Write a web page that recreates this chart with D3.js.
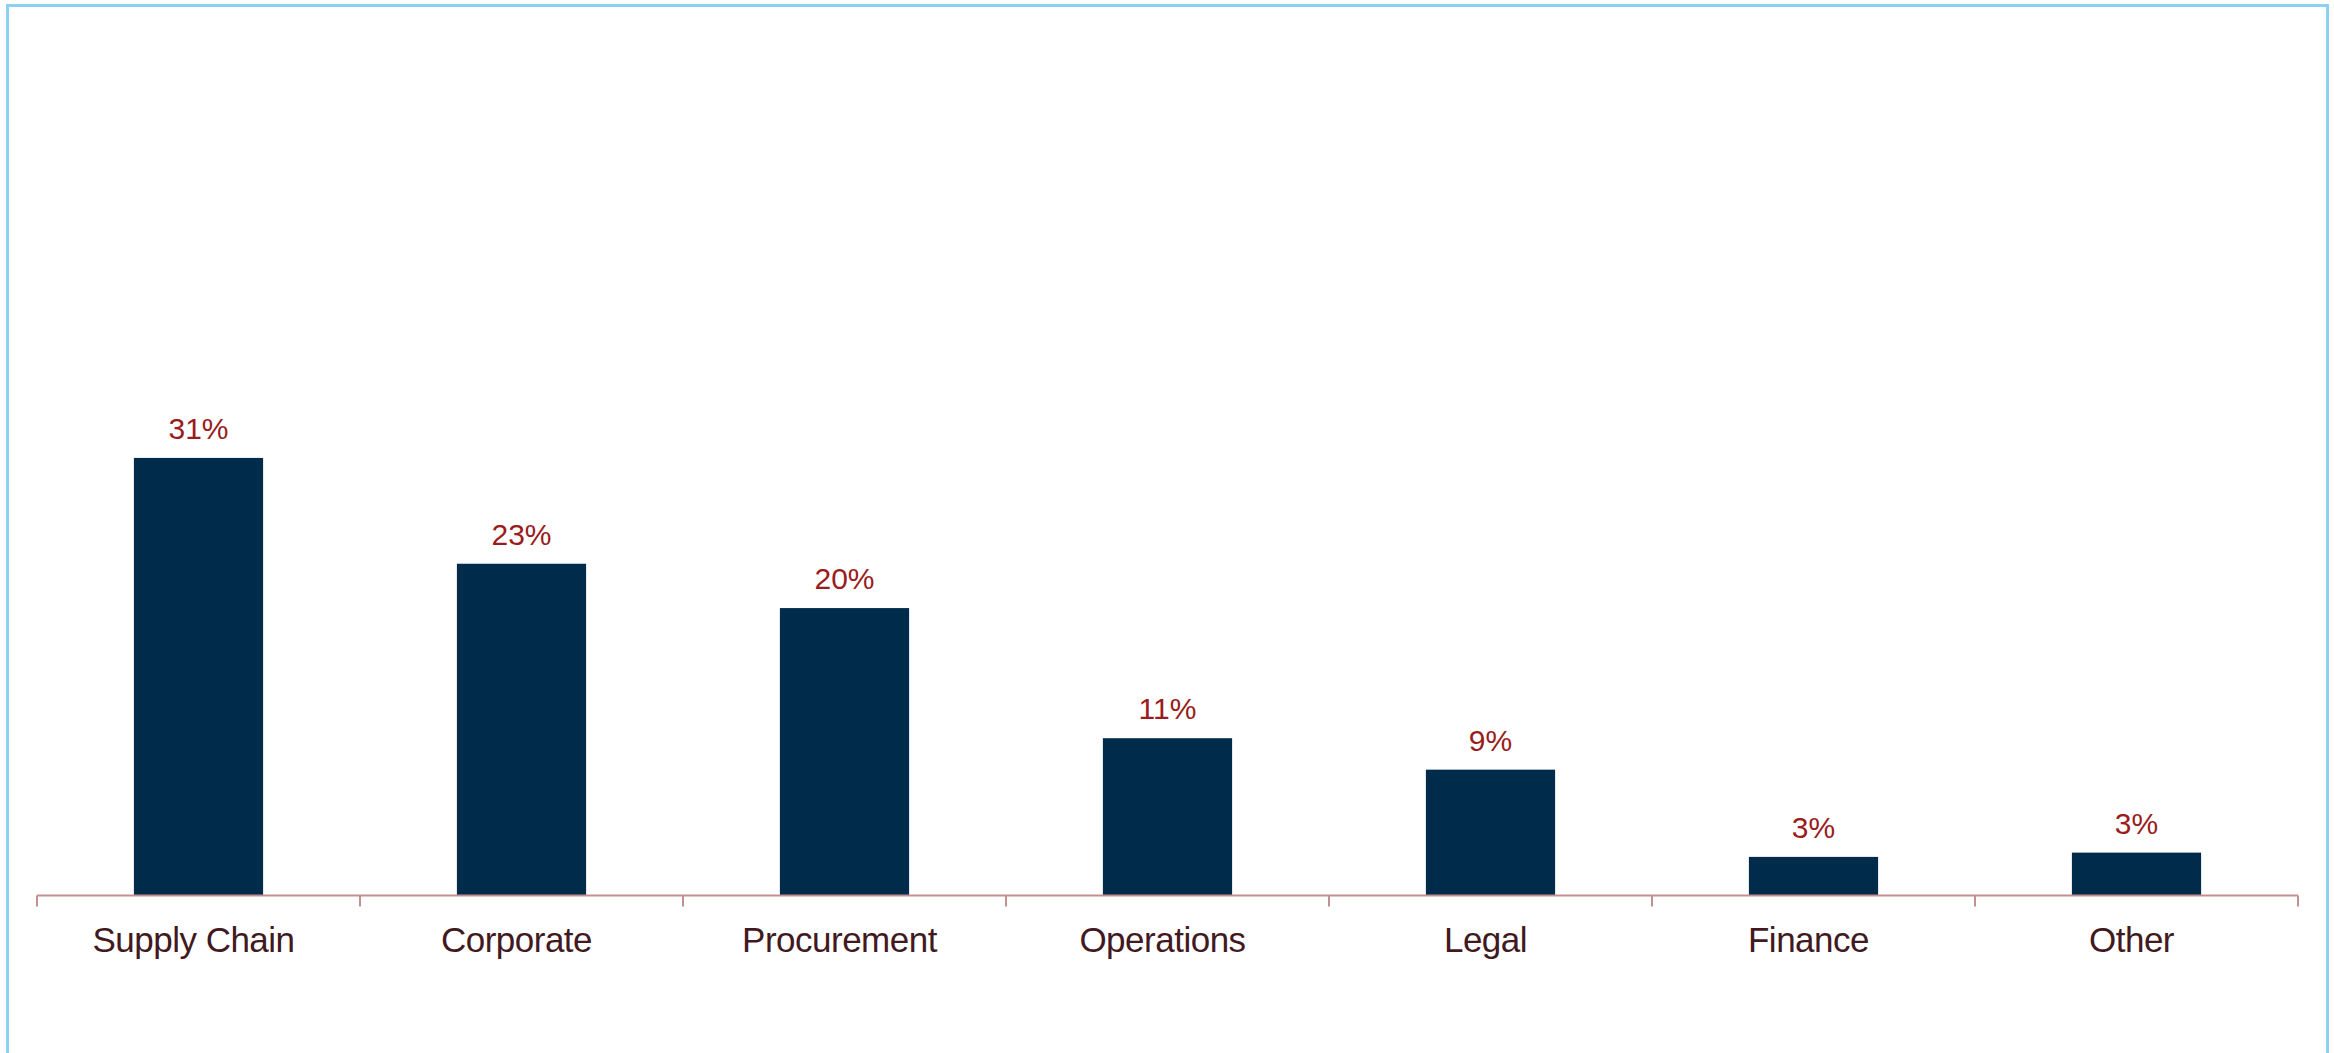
<!DOCTYPE html>
<html>
<head>
<meta charset="utf-8">
<script src="https://cdn.jsdelivr.net/npm/d3@7"></script>
<style>
  html, body { margin: 0; padding: 0; background: #ffffff; }
  svg { display: block; }
</style>
</head>
<body>
<div id="chart"></div>
<script>
// Share of respondents by function (percent)
const categories = ["Supply Chain", "Corporate", "Procurement", "Operations", "Legal", "Finance", "Other"];
const shares = [30.6, 23.2, 20.1, 11.0, 8.8, 2.7, 3.0];
const yDomain = [0, 60];

const W = 2334, H = 1053;
const plot = { left: 37, right: 2298, top: 37.5, bottom: 895.5 };

const svg = d3.select("#chart").append("svg")
  .attr("width", W).attr("height", H);

// outer frame of the chart area
svg.append("rect")
  .attr("x", 7.5).attr("y", 5.5)
  .attr("width", 2320).attr("height", 1120)
  .attr("fill", "none")
  .attr("stroke", "#8cd1f0")
  .attr("stroke-width", 3);

const x = d3.scaleBand()
  .domain(categories)
  .range([plot.left, plot.right])
  .paddingInner(0.6)
  .paddingOuter(0.3);

const y = d3.scaleLinear()
  .domain(yDomain)
  .range([plot.bottom, plot.top]);

const data = categories.map((c, i) => ({ cat: c, value: shares[i] }));

// bars
svg.append("g").selectAll("rect")
  .data(data)
  .join("rect")
  .attr("x", d => x(d.cat))
  .attr("y", d => y(d.value))
  .attr("width", x.bandwidth())
  .attr("height", d => y(0) - y(d.value))
  .attr("fill", "#012b4a");

// value labels
svg.append("g").selectAll("text")
  .data(data)
  .join("text")
  .attr("x", d => x(d.cat) + x.bandwidth() / 2)
  .attr("y", d => y(d.value) - 19)
  .attr("text-anchor", "middle")
  .attr("font-family", "'Liberation Sans', Arial, sans-serif")
  .attr("font-size", 30)
  .attr("fill", "#9a1c20")
  .text(d => Math.round(d.value) + "%");

// category axis with ticks at band boundaries
const axisColor = "#c38f8f";
const axisG = svg.append("g");
axisG.append("line")
  .attr("x1", plot.left).attr("x2", plot.right)
  .attr("y1", y(0)).attr("y2", y(0))
  .attr("stroke", axisColor).attr("stroke-width", 2);

const boundaries = categories.map(c => x(c) - x.step() * x.paddingInner() / 2)
  .concat([plot.right]);
axisG.selectAll("line.tick")
  .data(boundaries)
  .join("line")
  .attr("class", "tick")
  .attr("x1", d => d).attr("x2", d => d)
  .attr("y1", y(0)).attr("y2", y(0) + 11)
  .attr("stroke", axisColor).attr("stroke-width", 2);

axisG.selectAll("text")
  .data(categories)
  .join("text")
  .attr("x", d => x(d) + x.bandwidth() / 2 - 5)
  .attr("y", 952)
  .attr("text-anchor", "middle")
  .attr("font-family", "'Liberation Sans', Arial, sans-serif")
  .attr("font-size", 35)
  .attr("letter-spacing", "-0.5px")
  .attr("fill", "#41191e")
  .text(d => d);
</script>
</body>
</html>
